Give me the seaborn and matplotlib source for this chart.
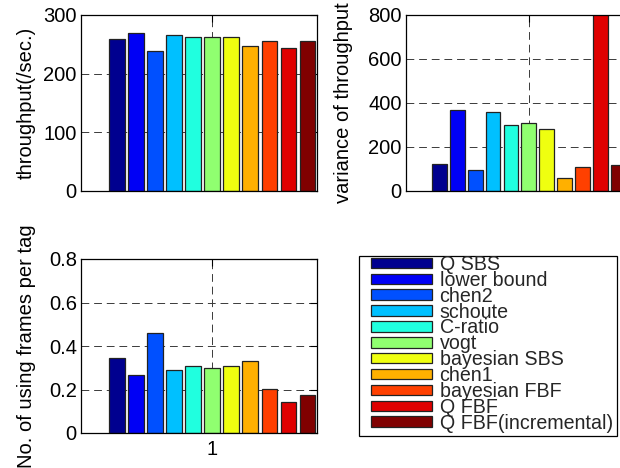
import matplotlib
matplotlib.use("Agg")
import matplotlib.pyplot as plt
from matplotlib.patches import Rectangle
import pandas as pd
import seaborn as sns

# Methods compared, one bar each in every panel
methods = ["Q SBS", "lower bound", "chen2", "schoute", "C-ratio", "vogt",
           "bayesian SBS", "chen1", "bayesian FBF", "Q FBF", "Q FBF(incremental)"]
colors = ["#00008F", "#0000F5", "#0050FF", "#00C0FF", "#20FFDF", "#90FF70",
          "#EFFF10", "#FFB000", "#FF4000", "#DF0000", "#800000"]
group = "1"

throughput = [259, 269, 238, 266, 263, 263, 263, 248, 255, 243, 255]
variance = [124, 366, 97, 357, 302, 310, 284, 61, 111, 1000, 118]
frames = [0.344, 0.268, 0.460, 0.288, 0.309, 0.301, 0.309, 0.330, 0.203, 0.142, 0.177]

thr_ticks = [0, 100, 200, 300]
var_ticks = [0, 200, 400, 600, 800]
frm_ticks = [0, 0.2, 0.4, 0.6, 0.8]
frm_labels = ["0", "0.2", "0.4", "0.6", "0.8"]

sns.set_theme(style="white")
plt.rcParams["font.family"] = ["Liberation Sans", "DejaVu Sans"]
FS = 14.5

fig = plt.figure(figsize=(6.2, 4.68), dpi=100)
W, H = 620.0, 468.0


def place(l, t, r, b):
    return fig.add_axes([l / W, 1 - b / H, (r - l) / W, (b - t) / H])


ax1 = place(81, 15, 317, 191)
ax2 = place(406, 15, 627, 191)
ax3 = place(81, 259, 317, 433)

panels = [
    (ax1, throughput, "throughput(/sec.)", thr_ticks, [str(t) for t in thr_ticks], -0.19, False),
    (ax2, variance, "variance of throughput", var_ticks, [str(t) for t in var_ticks], -0.24, False),
    (ax3, frames, "No. of using frames per tag", frm_ticks, frm_labels, -0.19, True),
]

for ax, vals, label, ticks, tlabels, lx, show_x in panels:
    df = pd.DataFrame({"group": [group] * len(methods), "method": methods, "value": vals})
    sns.barplot(data=df, x="group", y="value", hue="method", hue_order=methods,
                palette=colors, saturation=1, dodge=True, gap=0.18,
                edgecolor="#222222", linewidth=0.9, legend=False, ax=ax)
    ax.set_xlim(-0.5, 0.4)
    ax.set_ylim(ticks[0], ticks[-1])
    ax.set_yticks(ticks)
    ax.set_yticklabels(tlabels)
    ax.set_xticks([0])
    ax.set_xticklabels([group])
    ax.set_xlabel("")
    ax.set_ylabel(label, fontsize=FS, color="black")
    ax.yaxis.set_label_coords(lx, 0.5)
    ax.set_axisbelow(True)
    ax.grid(True, axis="both", linestyle=(0, (8, 5)), color="#3a3a3a", linewidth=0.7)
    ax.tick_params(direction="in", length=5, width=0.8, top=True, right=True,
                   colors="black", labelsize=FS, pad=3, labelbottom=show_x)
    ax.tick_params(axis="x", pad=5)
    for sp in ax.spines.values():
        sp.set_color("black")
        sp.set_linewidth(0.9)
        sp.set_visible(True)

# Legend entries reuse the bars of the lower panel; the frame is drawn separately
handles = [cont.patches[0] for cont in ax3.containers]
leg = fig.legend(handles, methods, loc="upper left",
                 bbox_to_anchor=(371 / W, 1 - 255 / H), borderaxespad=0,
                 fontsize=14.1, frameon=False,
                 handlelength=3.1, handleheight=0.45, handletextpad=0.4,
                 labelspacing=-0.16, borderpad=0)
fig.add_artist(Rectangle((359 / W, 1 - 436 / H), (617 - 359) / W, (436 - 256) / H,
                         transform=fig.transFigure, fill=False,
                         edgecolor="black", linewidth=0.9))

fig.savefig("out.png", dpi=100, facecolor="white")
